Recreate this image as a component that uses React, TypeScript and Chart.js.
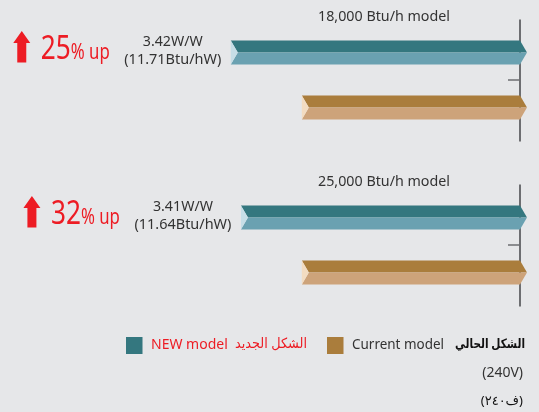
import React, { useEffect, useRef } from 'react';
import { Chart, registerables } from 'chart.js';
Chart.register(...registerables);

// ---- data ----
const categories = ['18,000 Btu/h NEW', '18,000 Btu/h Current', '', '25,000 Btu/h NEW', '25,000 Btu/h Current'];
const newModel = [3.42, null, null, 3.3, null];
const currentModel = [null, 2.58, null, null, 2.58];
const groupTitles = ['18,000 Btu/h model', '25,000 Btu/h model'];
const groupRows = [[0, 1], [3, 4]];
const ratingWW = ['3.42W/W', '3.41W/W'];
const ratingBtu = ['(11.71Btu/hW)', '(11.64Btu/hW)'];
const increasePct = ['25', '32'];
const newLabels = ['NEW model', 'الشكل الجديد'];
const currentLabels = ['Current model', 'الشكل الحالي'];
const voltageLabels = ['(240V)', '(٢٤٠ف)'];

// ---- styles ----
const BG = '#e6e7e9';
const RED = '#ed1c24';
const TEXT = '#333333';
const AXIS = '#6d6e71';
const NEW_COL = { top: '#34777f', bottom: '#6aa1b1', notch: '#c6dee7' };
const CUR_COL = { top: '#aa7d3c', bottom: '#cda37a', notch: '#f3dcc1' };
const FONT = '"Noto Sans", "DejaVu Sans", sans-serif';

function txt(ctx: any, s: string, x: number, y: number, size: number, color: string, align: string, maxW?: number, weight = 'normal', baseline = 'middle') {
  ctx.font = `${weight} ${size}px ${FONT}`;
  ctx.fillStyle = color;
  ctx.textAlign = align;
  ctx.textBaseline = baseline;
  ctx.direction = 'ltr';
  if (maxW) ctx.fillText(s, x, y, maxW);
  else ctx.fillText(s, x, y);
}

const customPlugin = {
  id: 'custom',
  beforeDraw(chart: any) {
    const ctx = chart.ctx;
    ctx.save();
    ctx.fillStyle = BG;
    ctx.fillRect(0, 0, chart.width, chart.height);
    ctx.restore();
  },
  afterDatasetsDraw(chart: any) {
    const ctx = chart.ctx;
    const xs = chart.scales.x;
    const ys = chart.scales.y;
    const x0 = xs.getPixelForValue(0);
    ctx.save();

    // axes per group
    groupRows.forEach(([a, b]) => {
      const ya = ys.getPixelForValue(a);
      const yb = ys.getPixelForValue(b);
      ctx.strokeStyle = AXIS;
      ctx.lineWidth = 2;
      ctx.beginPath();
      ctx.moveTo(x0, ya - 33);
      ctx.lineTo(x0, yb + 34);
      ctx.stroke();
      ctx.lineWidth = 1.5;
      ctx.beginPath();
      ctx.moveTo(x0 - 12, (ya + yb) / 2);
      ctx.lineTo(x0, (ya + yb) / 2);
      ctx.stroke();
    });

    // bars
    chart.data.datasets.forEach((ds: any, di: number) => {
      const col = di === 0 ? NEW_COL : CUR_COL;
      const meta = chart.getDatasetMeta(di);
      meta.data.forEach((el: any, i: number) => {
        if (ds.data[i] == null) return;
        const { x, y, base, height } = el.getProps(['x', 'y', 'base', 'height'], true);
        const left = Math.min(x, base);
        const right = Math.max(x, base);
        const top = y - height / 2;
        const bot = y + height / 2;
        const d = 7;
        ctx.fillStyle = col.top;
        ctx.beginPath();
        ctx.moveTo(left, top);
        ctx.lineTo(right, top);
        ctx.lineTo(right + d, y);
        ctx.lineTo(left + d, y);
        ctx.closePath();
        ctx.fill();
        ctx.fillStyle = col.bottom;
        ctx.beginPath();
        ctx.moveTo(left + d, y);
        ctx.lineTo(right + d, y);
        ctx.lineTo(right, bot);
        ctx.lineTo(left, bot);
        ctx.closePath();
        ctx.fill();
        ctx.fillStyle = col.notch;
        ctx.beginPath();
        ctx.moveTo(left, top);
        ctx.lineTo(left + d, y);
        ctx.lineTo(left, bot);
        ctx.closePath();
        ctx.fill();
      });
    });

    // annotations per group
    groupRows.forEach(([a], g) => {
      const yNew = ys.getPixelForValue(a);
      const barLeft = xs.getPixelForValue(newModel[a]);
      txt(ctx, groupTitles[g], 384, yNew - 35.5, 15, TEXT, 'center', 132);
      const cx = barLeft - 58;
      txt(ctx, ratingWW[g], cx, yNew - 10.5, 15, TEXT, 'center', 60);
      txt(ctx, ratingBtu[g], cx, yNew + 7.5, 15, TEXT, 'center', 97);

      // increase
      const upRight = barLeft - 121;
      const baseY = yNew + 6.5;
      ctx.font = `21px ${FONT}`;
      const wUp = Math.min(ctx.measureText('% up').width, 39);
      txt(ctx, '% up', upRight, baseY, 21, RED, 'right', 39, 'normal', 'alphabetic');
      ctx.font = `32px ${FONT}`;
      const wNum = Math.min(ctx.measureText(increasePct[g]).width, 30);
      txt(ctx, increasePct[g], upRight - wUp, baseY, 32, RED, 'right', 30, 'normal', 'alphabetic');
      const ar = upRight - wUp - wNum - 10.5;
      const al = ar - 17;
      const am = (ar + al) / 2;
      const aTop = yNew - 21.5;
      const aBot = yNew + 10;
      ctx.fillStyle = RED;
      ctx.beginPath();
      ctx.moveTo(am, aTop);
      ctx.lineTo(ar, aTop + 12);
      ctx.lineTo(am + 4.5, aTop + 12);
      ctx.lineTo(am + 4.5, aBot);
      ctx.lineTo(am - 4.5, aBot);
      ctx.lineTo(am - 4.5, aTop + 12);
      ctx.lineTo(al, aTop + 12);
      ctx.closePath();
      ctx.fill();
    });

    // legend
    const ly = chart.chartArea.bottom + 45.5;
    ctx.fillStyle = NEW_COL.top;
    ctx.fillRect(126, ly - 8.5, 16.5, 17);
    txt(ctx, newLabels[0], 151, ly, 14, RED, 'left', 77);
    txt(ctx, newLabels[1], 307, ly - 1, 14, RED, 'right', 72);
    ctx.fillStyle = CUR_COL.top;
    ctx.fillRect(327, ly - 8.5, 16.5, 17);
    txt(ctx, currentLabels[0], 352, ly, 14, TEXT, 'left', 92);
    txt(ctx, currentLabels[1], 525, ly - 1, 13, '#111111', 'right', 70, 'bold');
    txt(ctx, voltageLabels[0], 523, ly + 27.5, 14, TEXT, 'right', 42);

    // Arabic voltage label: laid out piece by piece, left to right, as in the reference
    const vl = voltageLabels[1];
    const pieces = [vl.slice(0, 1), vl.slice(1, vl.length - 2), vl.slice(vl.length - 2, vl.length - 1), vl.slice(vl.length - 1)];
    ctx.font = `normal 13px ${FONT}`;
    ctx.direction = 'ltr';
    const widths = pieces.map((p) => ctx.measureText(p).width);
    let px = 523 - widths.reduce((s, w) => s + w, 0);
    pieces.forEach((p, i) => {
      txt(ctx, p, px, ly + 55.5, 13, '#111111', 'left');
      px += widths[i];
    });

    ctx.restore();
  },
};

export default function App() {
  const ref = useRef<HTMLCanvasElement>(null);
  useEffect(() => {
    const chart = new Chart(ref.current as HTMLCanvasElement, {
      type: 'bar',
      data: {
        labels: categories,
        datasets: [
          { label: newLabels[0], data: newModel, backgroundColor: 'rgba(0,0,0,0)', borderWidth: 0, barThickness: 24, grouped: false } as any,
          { label: currentLabels[0], data: currentModel, backgroundColor: 'rgba(0,0,0,0)', borderWidth: 0, barThickness: 24, grouped: false } as any,
        ],
      },
      options: {
        indexAxis: 'y',
        responsive: false,
        animation: false,
        layout: { padding: { top: 25, bottom: 112, left: 224, right: 19 } },
        scales: {
          x: { display: false, reverse: true, min: 0, max: 3.5 },
          y: { display: false },
        },
        plugins: { legend: { display: false }, tooltip: { enabled: false } },
      },
      plugins: [customPlugin],
    });
    return () => chart.destroy();
  }, []);
  return (
    <div style={{ position: 'fixed', left: 0, top: 0, width: 539, height: 412, background: BG }}>
      <canvas ref={ref} width={539} height={412} style={{ display: 'block' }} />
    </div>
  );
}
